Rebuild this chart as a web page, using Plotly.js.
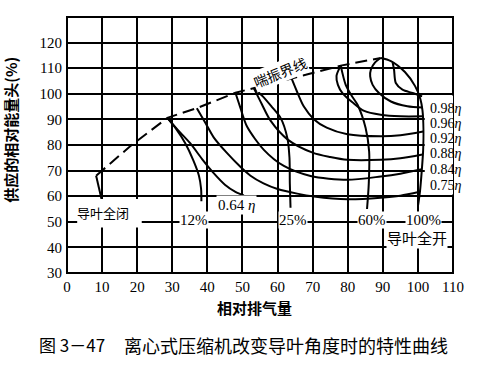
<!DOCTYPE html>
<html>
<head>
<meta charset="utf-8">
<script src="https://cdn.plot.ly/plotly-3.0.1.min.js"></script>
<style>
  html, body { margin: 0; padding: 0; background: #fff; }
  #chart { width: 483px; height: 365px; }
</style>
</head>
<body>
<div id="chart"></div>
<script>
// ---------- data ----------
const xTicks = [0, 10, 20, 30, 40, 50, 60, 70, 80, 90, 100, 110];
const yTicks = [30, 40, 50, 60, 70, 80, 90, 100, 110, 120];

// surge line (dashed)
const surgeX = [8.3, 18, 28.6, 37, 48, 53.2, 64, 78, 89.4];
const surgeY = [68, 79.5, 90.6, 94.4, 100.4, 102.3, 106, 111, 114];

// guide-vane opening curves
const vaneClosedX = [8.3, 9.9];
const vaneClosedY = [68, 58.5];
const vane12X = [28.6, 31, 33.7, 36, 37.6, 38.2, 38.3];
const vane12Y = [90.6, 86.5, 80.7, 74, 68, 63, 58];
const vane25X = [53.2, 55.8, 58.3, 60.9, 62.8, 63.4, 63.5, 63.7];
const vane25Y = [102.3, 99, 95, 90.5, 82.7, 75, 65, 55.5];
const vane60X = [78, 79.4, 81, 82.8, 85.1, 86.1, 86, 85.5];
const vane60Y = [111, 103.6, 99.5, 95.7, 86.6, 77.5, 65, 55];
const vane100X = [89.4, 92.3, 96.3, 99.2, 100.7, 101.3, 101.6, 101.5, 101.1, 100.6, 100];
const vane100Y = [114, 112.8, 108.5, 103, 98, 93.5, 86, 78, 70, 62, 56];

// efficiency curves
const eff64X = [28.6, 31.5, 35.1, 38.5, 41.8, 45, 48, 50.4];
const eff64Y = [90.6, 86, 80.7, 74.5, 69, 64.5, 61.7, 60.3];
const eff75X = [37, 39.5, 41.8, 45.5, 49.4, 52.3, 56, 60, 65.6, 70.4, 79.9, 89.4, 95, 100.5];
const eff75Y = [94.4, 88.5, 83, 77, 71.5, 68, 65, 62.8, 61, 59.9, 58.8, 59.4, 60.2, 61.7];
const eff84X = [48, 49.3, 51.3, 56.1, 61.8, 69.4, 79.9, 89.4, 95, 101.1];
const eff84Y = [100.4, 95, 87.2, 78.1, 71.8, 67.9, 66.4, 67.7, 68.8, 70.5];
const eff88X = [53.2, 55.5, 58, 63, 70, 75, 79.9, 89.4, 95, 101.3];
const eff88Y = [102.3, 96, 89.5, 82, 77, 75.3, 74.2, 74.2, 74.8, 76.3];
const eff92X = [64, 65.5, 67.5, 70.4, 74, 79.9, 89.4, 95, 101.5];
const eff92Y = [106, 101, 95, 90, 86.8, 84.2, 83.4, 83.8, 85.3];
const eff96X = [78, 76.8, 77.2, 78.5, 81.5, 84.7, 89.4, 95, 101.5];
const eff96Y = [111, 107, 103.5, 100.3, 96.5, 93.3, 91.8, 91.2, 91.2];
const eff98X = [89.4, 87.8, 86.6, 86.4, 87.1, 88.9, 92.3, 97, 101.3];
const eff98Y = [114, 112.3, 109.5, 106.8, 103.5, 100.3, 97, 95.1, 94.6];
const effInnerX = [92.8, 93.2, 93.7, 95.6, 98.5, 101.2];
const effInnerY = [112.2, 109.4, 104.2, 101.6, 100.3, 99];

// labels
const effLabels = ['0.98<i>η</i>', '0.96<i>η</i>', '0.92<i>η</i>', '0.88<i>η</i>', '0.84<i>η</i>', '0.75<i>η</i>'];
const effLabelY = [94.4, 88.3, 82.7, 76.8, 70.6, 64.2];
const vaneLabels = ['12%', '25%', '60%', '100%'];
const vaneLabelX = [36.3, 64.4, 87, 101.5];
const vaneLabelY = [50.8, 50.8, 50.8, 50.8];

// ---------- traces ----------
const ink = '#000';
function curve(x, y, opts) {
  return Object.assign({
    x: x, y: y, type: 'scatter', mode: 'lines', hoverinfo: 'skip',
    line: { color: ink, width: 2, shape: 'spline', smoothing: 0.8 }
  }, opts || {});
}
const traces = [
  curve(surgeX, surgeY, { line: { color: ink, width: 2, dash: '12px,6px', shape: 'linear' } }),
  curve(vaneClosedX, vaneClosedY, { line: { color: ink, width: 2, shape: 'linear' } }),
  curve(vane12X, vane12Y),
  curve(vane25X, vane25Y),
  curve(vane60X, vane60Y),
  curve(vane100X, vane100Y),
  curve(eff64X, eff64Y),
  curve(eff75X, eff75Y),
  curve(eff84X, eff84Y),
  curve(eff88X, eff88Y),
  curve(eff92X, eff92Y),
  curve(eff96X, eff96Y),
  curve(eff98X, eff98Y),
  curve(effInnerX, effInnerY)
];

// ---------- annotations ----------
const serif = '"Liberation Serif", "DejaVu Serif", serif';
const cjk = '"Noto Sans CJK SC", sans-serif';
const annotations = [];
effLabels.forEach((t, i) => annotations.push({
  x: 103.0, y: effLabelY[i], xref: 'x', yref: 'y', text: t, showarrow: false,
  xanchor: 'left', yanchor: 'middle', font: { family: serif, size: 14, color: ink }
}));
vaneLabels.forEach((t, i) => annotations.push({
  x: vaneLabelX[i], y: vaneLabelY[i], xref: 'x', yref: 'y', text: t, showarrow: false,
  xanchor: 'center', yanchor: 'middle', bgcolor: '#fff', borderpad: 0,
  font: { family: serif, size: 15, color: ink }
}));
annotations.push({ x: 48.4, y: 56.4, xref: 'x', yref: 'y', text: '0.64 <i>η</i>', showarrow: false,
  bgcolor: '#fff', borderpad: 1, font: { family: serif, size: 15, color: ink } });
annotations.push({ x: 10.3, y: 53.8, xref: 'x', yref: 'y', text: '导叶全闭', showarrow: false,
  font: { family: cjk, size: 13, color: ink } });
annotations.push({ x: 99.6, y: 43.9, xref: 'x', yref: 'y', text: '导叶全开', showarrow: false,
  bgcolor: '#fff', borderpad: 0, font: { family: cjk, size: 15, color: ink } });
annotations.push({ x: 60.8, y: 108.6, xref: 'x', yref: 'y', text: '喘振界线', showarrow: false,
  textangle: -22, bgcolor: '#fff', borderpad: 0, font: { family: cjk, size: 14, color: ink } });
// axis titles and caption
annotations.push({ x: -0.145, y: 0.56, xref: 'paper', yref: 'paper', text: '供应的相对能量头(%)',
  xanchor: 'center', yanchor: 'middle',
  showarrow: false, textangle: -90, font: { family: cjk, size: 15, color: ink, weight: 'bold' } });
annotations.push({ x: 0.487, y: -0.133, xref: 'paper', yref: 'paper', text: '相对排气量',
  xanchor: 'center', yanchor: 'middle',
  showarrow: false, font: { family: cjk, size: 15, color: ink, weight: 'bold' } });
annotations.push({ x: -0.078, y: -0.281, xref: 'paper', yref: 'paper', text: '图 3－47',
  showarrow: false, xanchor: 'left', yanchor: 'middle', font: { family: cjk, size: 17, color: ink } });
annotations.push({ x: 0.142, y: -0.281, xref: 'paper', yref: 'paper', text: '离心式压缩机改变导叶角度时的特性曲线',
  showarrow: false, xanchor: 'left', yanchor: 'middle', font: { family: cjk, size: 18, color: ink } });

// ---------- shapes: frame and white label patches ----------
const shapes = [
  { type: 'rect', xref: 'paper', yref: 'paper', x0: 0, x1: 1, y0: 0, y1: 1, layer: 'above',
    line: { color: ink, width: 2 }, fillcolor: 'rgba(0,0,0,0)' },
  { type: 'rect', xref: 'x', yref: 'y', x0: 101.95, x1: 112, y0: 60.7, y1: 99.3, layer: 'above',
    line: { width: 0 }, fillcolor: '#fff' },
  { type: 'rect', xref: 'x', yref: 'y', x0: 2.9, x1: 21.3, y0: 47.8, y1: 58.9, layer: 'above',
    line: { width: 0 }, fillcolor: '#fff' }
];

const axisCommon = {
  showgrid: true, gridcolor: ink, gridwidth: 2, zeroline: false, showline: false,
  ticks: '', tickfont: { family: serif, size: 15, color: ink }, fixedrange: true
};
const layout = {
  width: 483, height: 365,
  margin: { l: 67, r: 30, t: 17, b: 92 },
  paper_bgcolor: '#fff', plot_bgcolor: '#fff',
  showlegend: false,
  xaxis: Object.assign({}, axisCommon, { range: [0, 110], tickvals: xTicks, ticktext: xTicks.map(String), ticklabelstandoff: 3 }),
  yaxis: Object.assign({}, axisCommon, { range: [30, 130], tickvals: yTicks, ticktext: yTicks.map(String), ticklabelstandoff: 4 }),
  annotations: annotations,
  shapes: shapes
};
Plotly.newPlot('chart', traces, layout, { staticPlot: true, displayModeBar: false });
</script>
</body>
</html>
